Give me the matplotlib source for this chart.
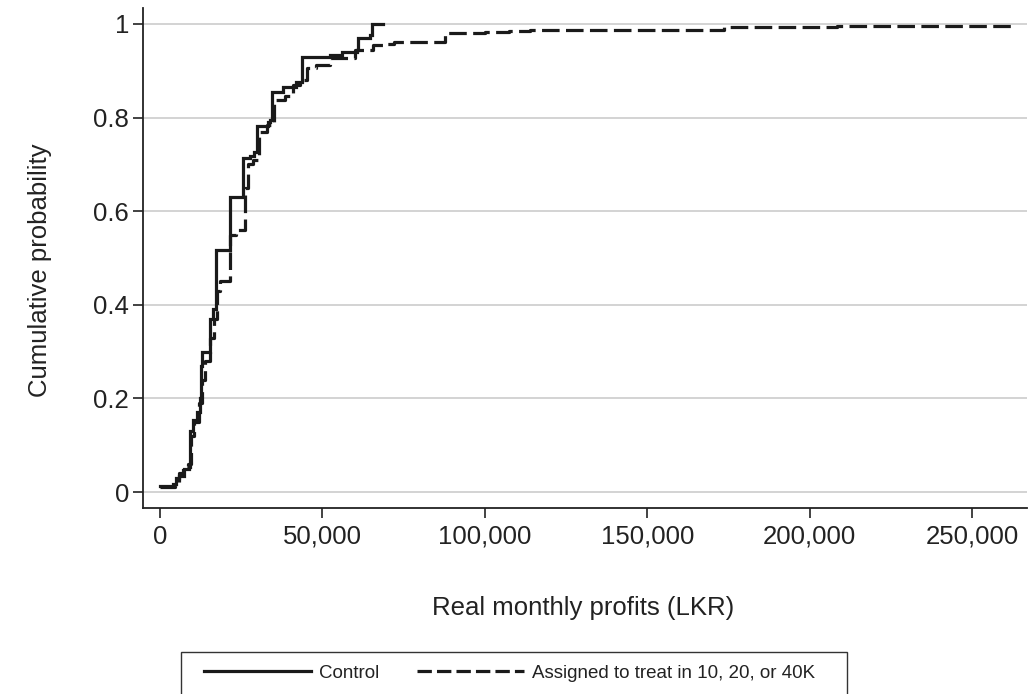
import matplotlib
matplotlib.use("Agg")
import matplotlib.pyplot as plt
from matplotlib.lines import Line2D
from matplotlib.patches import Rectangle
from matplotlib.ticker import FuncFormatter

# Empirical CDF of real monthly profits (LKR), control group
control_profit = [0, 4000, 5000, 6000, 7500, 9000, 9200, 10300, 11500, 12300,
                  12600, 12900, 15400, 16400, 17200, 17300, 21500, 21600,
                  25500, 25650, 27700, 29000, 29960, 33350, 34000, 34400,
                  38000, 42000, 43600, 52300, 56000, 60500, 60800, 64700,
                  65200, 68700]
control_cdf = [0.013, 0.017, 0.030, 0.035, 0.050, 0.053, 0.130, 0.155, 0.170,
               0.200, 0.270, 0.300, 0.370, 0.390, 0.400, 0.517, 0.567, 0.631,
               0.656, 0.713, 0.718, 0.727, 0.781, 0.790, 0.795, 0.855,
               0.866, 0.877, 0.930, 0.934, 0.941, 0.944, 0.969, 0.976,
               1.000, 1.000]

# Empirical CDF, firms assigned to a 10K, 20K or 40K treatment
treat_profit = [0, 4500, 6000, 7000, 8500, 9500, 10500, 12000, 13000, 14000,
                15500, 16500, 17500, 18500, 21700, 23500, 26200, 26300,
                27000, 28500, 30500, 33000, 35000, 38500, 41000, 43000,
                45200, 48000, 52300, 60000, 65600, 68700, 72000, 87600,
                100000, 107500, 113800, 173700, 208500, 262000]
treat_cdf = [0.010, 0.015, 0.040, 0.055, 0.060, 0.120, 0.150, 0.190, 0.240,
             0.280, 0.330, 0.370, 0.430, 0.450, 0.550, 0.560, 0.590, 0.650,
             0.700, 0.710, 0.770, 0.785, 0.838, 0.845, 0.870, 0.880,
             0.905, 0.912, 0.927, 0.944, 0.955, 0.958, 0.962, 0.980,
             0.982, 0.985, 0.988, 0.993, 0.996, 0.998]

x_ticks = [0, 50000, 100000, 150000, 200000, 250000]
y_ticks = [0, 0.2, 0.4, 0.6, 0.8, 1.0]
y_tick_labels = ["0", "0.2", "0.4", "0.6", "0.8", "1"]

plt.rcParams["font.family"] = ["Liberation Sans", "DejaVu Sans"]

W, H = 1031, 694
fig = plt.figure(figsize=(W / 100, H / 100), dpi=100)
ax = fig.add_axes([143 / W, 1 - 508 / H, (1027 - 143) / W, (508 - 8) / H])

ink = "#1a1a1a"
ax.plot(control_profit, control_cdf, drawstyle="steps-post", color=ink,
        lw=2.3, solid_joinstyle="miter", label="Control")
ax.plot(treat_profit, treat_cdf, drawstyle="steps-post", color=ink,
        lw=2.3, dashes=(5.5, 2), label="Assigned to treat in 10, 20, or 40K")

ax.set_xlim(-5234, 266900)
ax.set_ylim(-0.034, 1.034)

ax.set_yticks(y_ticks)
ax.set_yticklabels(y_tick_labels)
ax.set_xticks(x_ticks)
ax.xaxis.set_major_formatter(FuncFormatter(lambda v, p: f"{int(v):,}"))

ax.grid(axis="y", color="#d0d0d0", lw=1.3)
ax.set_axisbelow(True)
for s in ("top", "right"):
    ax.spines[s].set_visible(False)
for s in ("left", "bottom"):
    ax.spines[s].set_color("#222222")
    ax.spines[s].set_linewidth(1.3)

ax.tick_params(axis="both", direction="out", length=7, width=1.2,
               color="#222222", labelsize=18.5, labelcolor="#222222")
ax.tick_params(axis="y", pad=3)
ax.tick_params(axis="x", pad=5)

fig.text(40 / W, 1 - 270 / H, "Cumulative probability", rotation=90,
         ha="center", va="center", fontsize=18.5, color="#222222")
fig.text(583 / W, 1 - 608 / H, "Real monthly profits (LKR)",
         ha="center", va="center", fontsize=18.5, color="#222222")

# Legend entries, with a wide frame that runs past the bottom edge
handles = [Line2D([], [], color=ink, lw=2.3),
           Line2D([], [], color=ink, lw=2.3, dashes=(4.5, 1.6))]
leg = fig.legend(handles, ["Control", "Assigned to treat in 10, 20, or 40K"],
                 loc="center left", bbox_to_anchor=(204 / W, 1 - 673 / H),
                 ncol=2, frameon=False, handlelength=5.7,
                 handletextpad=0.45, columnspacing=2.0, borderpad=0,
                 borderaxespad=0, prop={"size": 13.5})
for t in leg.get_texts():
    t.set_color("#222222")
fig.add_artist(Rectangle((181 / W, -0.05), (847 - 181) / W,
                         (1 - 652 / H) + 0.05, transform=fig.transFigure,
                         fill=False, ec="#333333", lw=1.0))

fig.savefig("out.png", dpi=100)
